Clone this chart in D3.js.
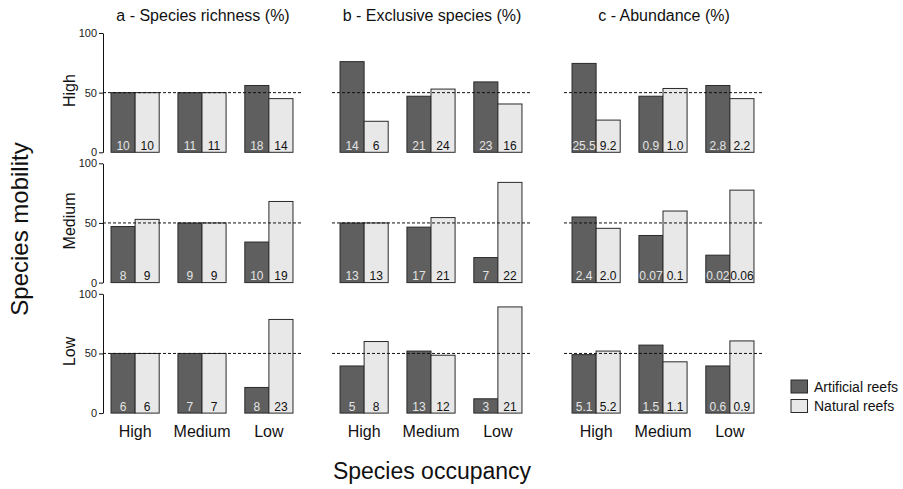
<!DOCTYPE html>
<html>
<head>
<meta charset="utf-8">
<script src="https://cdn.jsdelivr.net/npm/d3@7"></script>
<style>
  body { margin: 0; background: #fff; }
  svg { font-family: "Liberation Sans", Arial, sans-serif; }
</style>
</head>
<body>
<svg id="chart" width="903" height="489"></svg>
<script>
// categories
var occupancy = ["High", "Medium", "Low"];
var mobility = ["High", "Medium", "Low"];
var panelTitles = ["a - Species richness (%)", "b - Exclusive species (%)", "c - Abundance (%)"];
var seriesNames = ["Artificial reefs", "Natural reefs"];
var yTicks = [0, 50, 100];

// bar heights in %, rows = mobility, columns = occupancy
var richnessArtificial = [[50, 50, 56], [47, 50, 34], [50, 50, 21.5]];
var richnessNatural    = [[50, 50, 45], [53, 50, 68], [50, 50, 78.5]];
var exclusiveArtificial = [[76, 47, 59], [50, 46.5, 21], [39.5, 52, 12]];
var exclusiveNatural    = [[26, 53, 40.5], [50, 54.5, 84], [60, 48.5, 89]];
var abundanceArtificial = [[74.5, 47, 56], [55, 39.5, 23], [49, 57, 39.5]];
var abundanceNatural    = [[27, 53.5, 45], [45.5, 60, 77.5], [52, 43, 60.5]];

// numbers printed in the bars
var richnessArtLabels = [["10", "11", "18"], ["8", "9", "10"], ["6", "7", "8"]];
var richnessNatLabels = [["10", "11", "14"], ["9", "9", "19"], ["6", "7", "23"]];
var exclusiveArtLabels = [["14", "21", "23"], ["13", "17", "7"], ["5", "13", "3"]];
var exclusiveNatLabels = [["6", "24", "16"], ["13", "21", "22"], ["8", "12", "21"]];
var abundanceArtLabels = [["25.5", "0.9", "2.8"], ["2.4", "0.07", "0.02"], ["5.1", "1.5", "0.6"]];
var abundanceNatLabels = [["9.2", "1.0", "2.2"], ["2.0", "0.1", "0.06"], ["5.2", "1.1", "0.9"]];

var panels = [
  { title: panelTitles[0], art: richnessArtificial, nat: richnessNatural, artL: richnessArtLabels, natL: richnessNatLabels },
  { title: panelTitles[1], art: exclusiveArtificial, nat: exclusiveNatural, artL: exclusiveArtLabels, natL: exclusiveNatLabels },
  { title: panelTitles[2], art: abundanceArtificial, nat: abundanceNatural, artL: abundanceArtLabels, natL: abundanceNatLabels }
];

var colArt = "#5f5f5f", colNat = "#e8e8e8";
var panelX = [103, 332, 564];
var panelW = 200;
var rowTop = [33, 163.3, 293.8];
var rowH = 119.3;

var svg = d3.select("#chart");

var y = d3.scaleLinear().domain([0, 100]).range([rowH, 0]);
var x = d3.scaleBand().domain(occupancy).range([0, 198]).paddingInner(0.28).paddingOuter(0.12);
var xs = d3.scaleBand().domain(seriesNames).range([0, x.bandwidth()]);

panels.forEach(function (p, c) {
  // column title
  svg.append("text")
    .attr("x", panelX[c] + panelW / 2)
    .attr("y", 21)
    .attr("text-anchor", "middle")
    .style("font-size", "16px")
    .style("fill", "#111")
    .text(p.title);

  mobility.forEach(function (m, r) {
    var g = svg.append("g")
      .attr("transform", "translate(" + panelX[c] + "," + rowTop[r] + ")");

    var cells = occupancy.map(function (o, i) {
      return [
        { occ: o, s: seriesNames[0], v: p.art[r][i], lab: p.artL[r][i] },
        { occ: o, s: seriesNames[1], v: p.nat[r][i], lab: p.natL[r][i] }
      ];
    }).flat();

    g.selectAll("rect.bar")
      .data(cells)
      .enter().append("rect")
      .attr("class", "bar")
      .attr("x", function (d) { return x(d.occ) + xs(d.s); })
      .attr("y", function (d) { return y(d.v); })
      .attr("width", xs.bandwidth())
      .attr("height", function (d) { return y(0) - y(d.v); })
      .style("fill", function (d) { return d.s == seriesNames[0] ? colArt : colNat; })
      .style("stroke", "#2a2a2a")
      .style("stroke-width", 1);

    // 50% reference line
    g.append("line")
      .attr("x1", 0).attr("x2", panelW)
      .attr("y1", y(50)).attr("y2", y(50))
      .style("stroke", "#111")
      .style("stroke-width", 1)
      .style("stroke-dasharray", "3,2");

    g.selectAll("text.val")
      .data(cells)
      .enter().append("text")
      .attr("class", "val")
      .attr("x", function (d) { return x(d.occ) + xs(d.s) + xs.bandwidth() / 2; })
      .attr("y", y(0) - 2.5)
      .attr("text-anchor", "middle")
      .style("font-size", "12px")
      .style("fill", function (d) { return d.s == seriesNames[0] ? "#e4e4e4" : "#111"; })
      .text(function (d) { return d.lab; });

    if (c == 0) {
      var ax = g.append("g")
        .call(d3.axisLeft(y).tickValues(yTicks).tickSize(4).tickSizeOuter(0).tickPadding(2));
      ax.select(".domain").style("stroke", "#111");
      ax.selectAll(".tick line").style("stroke", "#111");
      ax.selectAll(".tick text")
        .style("font-size", "11px")
        .style("font-family", "Liberation Sans, Arial, sans-serif")
        .style("fill", "#222");

      g.append("text")
        .attr("transform", "translate(-28.5," + (rowH / 2 - 2) + ") rotate(-90)")
        .attr("text-anchor", "middle")
        .style("font-size", "16px")
        .style("fill", "#111")
        .text(m);
    }

    if (r == mobility.length - 1) {
      g.selectAll("text.occ")
        .data(occupancy)
        .enter().append("text")
        .attr("class", "occ")
        .attr("x", function (d) { return x(d) + x.bandwidth() / 2; })
        .attr("y", rowH + 24)
        .attr("text-anchor", "middle")
        .style("font-size", "16px")
        .style("fill", "#111")
        .text(function (d) { return d; });
    }
  });
});

// axis titles
svg.append("text")
  .attr("x", 432)
  .attr("y", 479)
  .attr("text-anchor", "middle")
  .style("font-size", "23px")
  .style("fill", "#111")
  .text("Species occupancy");

svg.append("text")
  .attr("transform", "translate(28,229) rotate(-90)")
  .attr("text-anchor", "middle")
  .style("font-size", "24px")
  .style("fill", "#111")
  .text("Species mobility");

// legend
var legend = svg.append("g").attr("transform", "translate(791,380)");
legend.selectAll("rect")
  .data(seriesNames)
  .enter().append("rect")
  .attr("x", 0)
  .attr("y", function (d, i) { return i * 19.5; })
  .attr("width", 16.5)
  .attr("height", 13)
  .style("fill", function (d, i) { return i == 0 ? colArt : colNat; })
  .style("stroke", "#2a2a2a")
  .style("stroke-width", 1);
legend.selectAll("text")
  .data(seriesNames)
  .enter().append("text")
  .attr("x", 23)
  .attr("y", function (d, i) { return i * 19.5 + 11.5; })
  .style("font-size", "14px")
  .style("fill", "#111")
  .text(function (d) { return d; });
</script>
</body>
</html>
